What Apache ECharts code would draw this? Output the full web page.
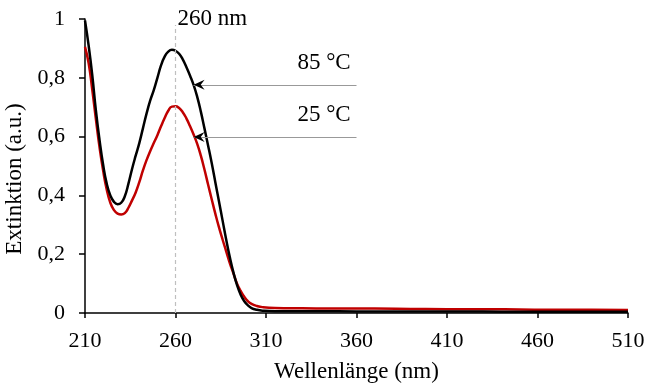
<!DOCTYPE html>
<html>
<head>
<meta charset="utf-8">
<script src="https://cdn.jsdelivr.net/npm/echarts@6/dist/echarts.min.js"></script>
<style>
html,body{margin:0;padding:0;background:#fff;}
#chart{width:647px;height:385px;}
</style>
</head>
<body>
<div id="chart"></div>
<script>
// Wavelengths (nm)
var wavelengths = [210,212,214,216,218,220,222,224,226,228,230,232,234,236,238,240,242,244,246,248,250,252,254,256,258,260,262,264,266,268,270,272,274,276,278,280,282,284,286,288,290,292,294,296,298,300,302,305,308,315,330,350,370,390,410,430,450,470,490,510];
// Extinction at 85 °C
var ext85 = [0.995,0.91,0.81,0.69,0.59,0.505,0.44,0.40,0.378,0.37,0.375,0.397,0.44,0.49,0.535,0.578,0.628,0.678,0.722,0.758,0.80,0.842,0.872,0.889,0.895,0.892,0.882,0.863,0.837,0.808,0.776,0.735,0.685,0.628,0.57,0.51,0.445,0.38,0.315,0.25,0.19,0.138,0.095,0.062,0.040,0.026,0.017,0.011,0.008,0.006,0.006,0.006,0.005,0.005,0.005,0.005,0.004,0.004,0.004,0.004];
// Extinction at 25 °C
var ext25 = [0.905,0.85,0.76,0.66,0.565,0.485,0.42,0.375,0.35,0.338,0.335,0.34,0.358,0.383,0.41,0.445,0.485,0.52,0.55,0.578,0.605,0.635,0.663,0.688,0.702,0.703,0.697,0.683,0.662,0.636,0.607,0.575,0.535,0.488,0.437,0.387,0.338,0.292,0.25,0.21,0.17,0.135,0.10,0.075,0.055,0.04,0.031,0.024,0.02,0.017,0.016,0.015,0.015,0.014,0.013,0.013,0.012,0.011,0.011,0.010];
var xTicks = [210,260,310,360,410,460,510];
var yTicks = [0,0.2,0.4,0.6,0.8,1];
var seriesNames = ['85 °C','25 °C'];
var peakWavelength = 260;
var arrowTarget = 270;   // wavelength the arrows point to
var arrowStart = 360;    // wavelength where the arrow lines start
var arrowLevels = [0.776, 0.599];
var labelLevels = [0.85, 0.673];

var FONT = "'Liberation Serif','Times New Roman',serif";

function zip(xs, ys){ return xs.map(function(x,i){ return [x, ys[i]]; }); }

var chevron = 'path://M10,0 L0,5 L10,10 L6.5,5 Z';

var chart = echarts.init(document.getElementById('chart'), null, {renderer:'canvas'});
chart.setOption({
  animation:false,
  backgroundColor:'#fff',
  grid:{left:85,right:19,top:19,bottom:72,containLabel:false,outerBoundsMode:'none'},
  xAxis:{
    type:'value', min:xTicks[0], max:xTicks[xTicks.length-1], interval:xTicks[1]-xTicks[0],
    name:'Wellenlänge (nm)', nameLocation:'middle', nameGap:47,
    nameTextStyle:{fontFamily:FONT,fontSize:23,color:'#000'},
    axisLine:{lineStyle:{color:'#000',width:1.5}},
    axisTick:{show:true,length:5,lineStyle:{color:'#000',width:1.5}},
    axisLabel:{fontFamily:FONT,fontSize:22,color:'#000',margin:17},
    splitLine:{show:false}
  },
  yAxis:{
    type:'value', min:yTicks[0], max:yTicks[yTicks.length-1], interval:yTicks[1]-yTicks[0],
    name:'Extinktion (a.u.)', nameLocation:'middle', nameGap:56,
    nameTextStyle:{fontFamily:FONT,fontSize:23,color:'#000',padding:[0,26,0,0]},
    axisLine:{show:true,lineStyle:{color:'#000',width:1.5}},
    axisTick:{show:true,length:6,lineStyle:{color:'#000',width:1.5}},
    axisLabel:{fontFamily:FONT,fontSize:22,color:'#000',margin:20,
      formatter:function(v){ return String(Math.round(v*10)/10).replace('.',','); }},
    splitLine:{show:false}
  },
  series:[
    {
      name:seriesNames[1], type:'line', data:zip(wavelengths,ext25), smooth:0.5,
      showSymbol:false, lineStyle:{color:'#c00000',width:2.5}, itemStyle:{color:'#c00000'}, z:2
    },
    {
      name:seriesNames[0], type:'line', data:zip(wavelengths,ext85), smooth:0.5,
      showSymbol:false, lineStyle:{color:'#000',width:2.5}, itemStyle:{color:'#000'}, z:3,
      markLine:{
        silent:true, symbol:['none','none'], animation:false,
        label:{show:false},
        data:[
          [{coord:[peakWavelength,0],lineStyle:{color:'#bfbfbf',width:1.2,type:[4,3]}},{coord:[peakWavelength,0.98]}],
          [{coord:[arrowStart,arrowLevels[0]],lineStyle:{color:'#999',width:1.2,type:'solid'}},{coord:[arrowTarget,arrowLevels[0]]}],
          [{coord:[arrowStart,arrowLevels[1]],lineStyle:{color:'#999',width:1.2,type:'solid'}},{coord:[arrowTarget,arrowLevels[1]]}]
        ]
      },
      markPoint:{
        silent:true, animation:false,
        data:[
          {coord:[peakWavelength,1.0],symbol:'rect',symbolSize:0,
            label:{show:true,formatter:peakWavelength+' nm',position:'right',distance:2,fontFamily:FONT,fontSize:23,color:'#000'}},
          {coord:[359,labelLevels[0]],symbol:'rect',symbolSize:0,
            label:{show:true,formatter:seriesNames[0],position:'left',distance:4,fontFamily:FONT,fontSize:23,color:'#000'}},
          {coord:[359,labelLevels[1]],symbol:'rect',symbolSize:0,
            label:{show:true,formatter:seriesNames[1],position:'left',distance:4,fontFamily:FONT,fontSize:23,color:'#000'}},
          {coord:[arrowTarget,arrowLevels[0]],symbol:chevron,symbolSize:[11,10],symbolOffset:['50%',0],
            itemStyle:{color:'#000'},label:{show:false}},
          {coord:[arrowTarget,arrowLevels[1]],symbol:chevron,symbolSize:[11,10],symbolOffset:['50%',0],
            itemStyle:{color:'#000'},label:{show:false}}
        ]
      }
    }
  ]
});
</script>
</body>
</html>
